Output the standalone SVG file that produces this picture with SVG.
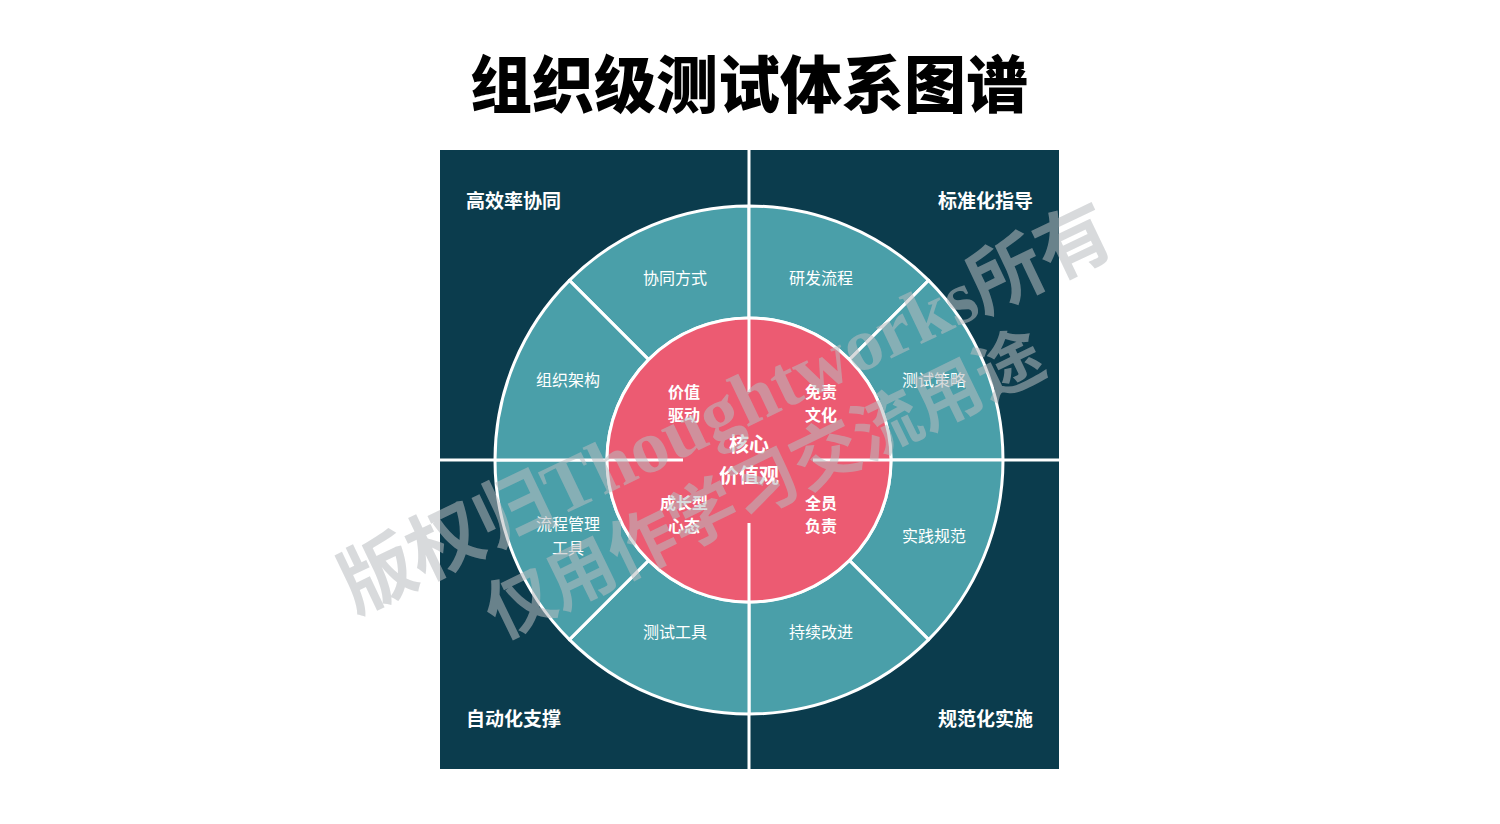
<svg xmlns="http://www.w3.org/2000/svg" width="1500" height="824" viewBox="0 0 1500 824">
<style>
.title{font-family:"Noto Sans CJK SC","Noto Sans CJK JP",sans-serif;font-weight:900;font-size:62px;fill:#000}
.quad{font-family:"Noto Sans CJK SC",sans-serif;font-weight:700;font-size:19px;fill:#fff}
.ring{font-family:"Noto Sans CJK SC",sans-serif;font-weight:400;font-size:16px;fill:#fff}
.core{font-family:"Noto Sans CJK SC",sans-serif;font-weight:700;font-size:16px;fill:#fff}
.center{font-family:"Noto Sans CJK SC",sans-serif;font-weight:700;font-size:20px;fill:#fff}
.seg{fill:#4A9FA9;stroke:#fff;stroke-width:3;stroke-linejoin:round}
.div{stroke:#fff;stroke-width:3;fill:none}
.wm{font-family:"Liberation Serif","Noto Sans CJK SC",serif;font-weight:700;fill:#b8bcc0;fill-opacity:0.55}
</style>
<rect width="1500" height="824" fill="#fff"/>
<text class="title" x="749" y="108" text-anchor="middle">组织级测试体系图谱</text>
<g id="background">
<rect x="440" y="150" width="619" height="619" fill="#0B3C4D"/>
</g>
<g id="connectors">
<line class="div" x1="749" y1="150" x2="749" y2="318"/>
<line class="div" x1="749" y1="602" x2="749" y2="769"/>
<line class="div" x1="440" y1="460" x2="607" y2="460"/>
<line class="div" x1="891" y1="460" x2="1059" y2="460"/>
</g>
<g id="quad-tl"><text class="quad" x="466" y="208">高效率协同</text></g>
<g id="quad-tr"><text class="quad" x="1033" y="208" text-anchor="end">标准化指导</text></g>
<g id="quad-bl"><text class="quad" x="466" y="726">自动化支撑</text></g>
<g id="quad-br"><text class="quad" x="1033" y="726" text-anchor="end">规范化实施</text></g>
<g id="seg-xietong">
<path class="seg" d="M569.4 280.4 A254 254 0 0 1 749 206 L749 318 A142 142 0 0 0 648.6 359.6 Z"/>
<text class="ring" x="675" y="284" text-anchor="middle">协同方式</text>
</g>
<g id="seg-yanfa">
<path class="seg" d="M749 206 A254 254 0 0 1 928.6 280.4 L849.4 359.6 A142 142 0 0 0 749 318 Z"/>
<text class="ring" x="821" y="284" text-anchor="middle">研发流程</text>
</g>
<g id="seg-celue">
<path class="seg" d="M928.6 280.4 A254 254 0 0 1 1003 460 L891 460 A142 142 0 0 0 849.4 359.6 Z"/>
<text class="ring" x="934" y="386" text-anchor="middle">测试策略</text>
</g>
<g id="seg-shijian">
<path class="seg" d="M1003 460 A254 254 0 0 1 928.6 639.6 L849.4 560.4 A142 142 0 0 0 891 460 Z"/>
<text class="ring" x="934" y="542" text-anchor="middle">实践规范</text>
</g>
<g id="seg-chixu">
<path class="seg" d="M928.6 639.6 A254 254 0 0 1 749 714 L749 602 A142 142 0 0 0 849.4 560.4 Z"/>
<text class="ring" x="821" y="638" text-anchor="middle">持续改进</text>
</g>
<g id="seg-gongju">
<path class="seg" d="M749 714 A254 254 0 0 1 569.4 639.6 L648.6 560.4 A142 142 0 0 0 749 602 Z"/>
<text class="ring" x="675" y="638" text-anchor="middle">测试工具</text>
</g>
<g id="seg-liucheng">
<path class="seg" d="M569.4 639.6 A254 254 0 0 1 495 460 L607 460 A142 142 0 0 0 648.6 560.4 Z"/>
<text class="ring" x="568" y="530" text-anchor="middle">流程管理</text>
<text class="ring" x="568" y="554" text-anchor="middle">工具</text>
</g>
<g id="seg-zuzhi">
<path class="seg" d="M495 460 A254 254 0 0 1 569.4 280.4 L648.6 359.6 A142 142 0 0 0 607 460 Z"/>
<text class="ring" x="568" y="386" text-anchor="middle">组织架构</text>
</g>
<g id="core">
<circle cx="749" cy="460" r="142" fill="#EC5B72" stroke="#fff" stroke-width="3"/>
<line class="div" x1="749" y1="318" x2="749" y2="392"/>
<line class="div" x1="749" y1="523" x2="749" y2="602"/>
<line class="div" x1="607" y1="460" x2="683" y2="460"/>
<line class="div" x1="813" y1="460" x2="891" y2="460"/>
</g>
<g id="core-jiazhi">
<text class="core" x="684" y="398" text-anchor="middle">价值</text>
<text class="core" x="684" y="421" text-anchor="middle">驱动</text>
</g>
<g id="core-mianze">
<text class="core" x="821" y="398" text-anchor="middle">免责</text>
<text class="core" x="821" y="421" text-anchor="middle">文化</text>
</g>
<g id="core-chengzhang">
<text class="core" x="684" y="509" text-anchor="middle">成长型</text>
<text class="core" x="684" y="532" text-anchor="middle">心态</text>
</g>
<g id="core-quanyuan">
<text class="core" x="821" y="509" text-anchor="middle">全员</text>
<text class="core" x="821" y="532" text-anchor="middle">负责</text>
</g>
<g id="core-center">
<text class="center" x="749" y="452" text-anchor="middle">核心</text>
<text class="center" x="749" y="483" text-anchor="middle">价值观</text>
</g>
<g id="watermark">
<text class="wm" font-size="75" transform="translate(355,614) rotate(-25.5)">版权归Thoughtworks所有</text>
<text class="wm" font-size="68" transform="translate(500,640) rotate(-26)">仅用作学习交流用途</text>
</g>
</svg>
